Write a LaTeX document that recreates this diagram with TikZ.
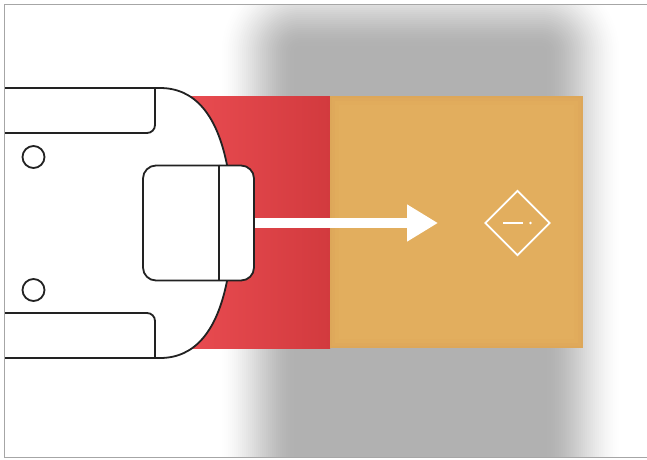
\documentclass[tikz,border=0pt]{standalone}
\usetikzlibrary{arrows.meta,shapes.geometric}
\definecolor{shadowgray}{HTML}{B1B1B1}
\definecolor{framegray}{HTML}{A6A6A6}
\definecolor{zoneredL}{HTML}{E94C51}
\definecolor{zoneredR}{HTML}{D23A3E}
\definecolor{zoneorange}{HTML}{E2AE5E}
\definecolor{zoneedge}{HTML}{D69850}
\definecolor{inkline}{HTML}{222222}
\begin{document}
\begin{tikzpicture}[x=1pt,y=-1pt,
  outline/.style={draw=inkline,line width=1.8pt,line join=round},
  marker/.style={circle,outline,fill=white,minimum size=22pt,inner sep=0pt},
  signbox/.style={diamond,draw=white,line width=1.8pt,minimum width=65pt,minimum height=65pt,inner sep=0pt,aspect=1},
  pointer/.style={white,line width=10pt,-{Triangle[length=31pt,width=35pt]}}]
\useasboundingbox (0,0) rectangle (647,459);
\begin{scope}
  \clip (4.5,4.5) rectangle (650,457.5);
  % soft shadow: stacked layers giving a smooth edge ramp
  \foreach \k in {1,...,40}{
    \pgfmathsetmacro\e{2*(40-\k)}
    \pgfmathsetmacro\tA{(\k-1)/40}
    \pgfmathsetmacro\tB{\k/40}
    \pgfmathsetmacro\cA{3*\tA*\tA-2*\tA*\tA*\tA}
    \pgfmathsetmacro\cB{3*\tB*\tB-2*\tB*\tB*\tB}
    \pgfmathsetmacro\op{1-(1-\cB)/(1-\cA)}
    \pgfmathsetmacro\rc{\e+4}
    \fill[shadowgray,opacity=\op,rounded corners=\rc pt] (296-\e,48-\e) rectangle (545+\e,560+\e);
  }
  % red and orange zones
  \shade[left color=zoneredL,right color=zoneredR] (185,96) rectangle (330,348);
  \fill[zoneorange] (330,96) rectangle (583,348);
  \foreach \w/\o in {2/0.12,5/0.10,9/0.08}
    \draw[zoneedge,opacity=\o,line width=\w pt] (330+\w/2,96+\w/2) rectangle (583-\w/2,348-\w/2);
  % body of the vehicle
  \fill[white] (0,88) -- (160,88) .. controls (195,88) and (217,115) .. (227,165)
     -- (227,281) .. controls (217,331) and (195,358) .. (160,358) -- (0,358) -- cycle;
  \draw[outline] (0,88) -- (160,88) .. controls (195,88) and (217,115) .. (227,165);
  \draw[outline] (227,281) .. controls (217,331) and (195,358) .. (160,358) -- (0,358);
  \draw[outline,rounded corners=8pt] (0,133) -- (155,133) -- (155,88);
  \draw[outline,rounded corners=8pt] (0,313) -- (155,313) -- (155,358);
  \node[marker] (boltA) at (33.5,157) {};
  \node[marker] (boltB) at (33.5,290) {};
  % mirror housing
  \node[outline,fill=white,rounded corners=13pt,minimum width=111pt,minimum height=115pt,inner sep=0pt] (mirror) at (198.5,223) {};
  \coordinate (divider) at (219,0);
  \draw[outline] (divider |- mirror.north) -- (divider |- mirror.south);
  % direction arrow and sign
  \coordinate (tipend) at (438,223);
  \draw[pointer] (mirror.east) -- (tipend);
  \node[signbox] (sign) at (517.5,223) {};
  \draw[white,line width=1.8pt] ([xshift=-14.5pt]sign.center) -- ([xshift=5pt]sign.center);
  \fill[white] ([xshift=13pt]sign.center) circle (1.3pt);
\end{scope}
% frame
\draw[framegray,line width=1.5pt] (650,4.5) -- (4.5,4.5) -- (4.5,457.5) -- (650,457.5);
\end{tikzpicture}
\end{document}
